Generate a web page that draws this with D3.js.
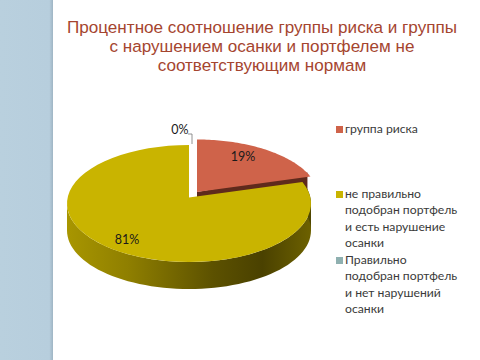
<!DOCTYPE html>
<html>
<head>
<meta charset="utf-8">
<style>
  html, body { margin: 0; padding: 0; background: #fff; overflow: hidden; }
  svg { display: block; }
</style>
<script src="https://d3js.org/d3.v7.min.js"></script>
</head>
<body>
<svg width="480" height="360"></svg>
<script>
var titleLines = ["Процентное соотношение группы риска и группы", "с нарушением осанки и портфелем не", "соответствующим нормам"];
var categories = ["группа риска", "не правильно подобран портфель и есть нарушение осанки", "Правильно подобран портфель и нет нарушений осанки"];
var legendLines = [["группа риска"], ["не правильно", "подобран портфель", "и есть нарушение", "осанки"], ["Правильно", "подобран портфель", "и нет нарушений", "осанки"]];
var values = [19, 81, 0];
var colors = ["#cf634a", "#c9b400", "#8fb0b0"];

var svg = d3.select("svg");
var defs = svg.append("defs");

// left strip of the slide
var band = defs.append("linearGradient").attr("id", "band");
band.append("stop").attr("offset", "0").attr("stop-color", "#b9d0de");
band.append("stop").attr("offset", "0.93").attr("stop-color", "#b7cedd");
band.append("stop").attr("offset", "1").attr("stop-color", "#9fb5c4");
svg.append("rect").attr("width", 53).attr("height", 360).attr("fill", "url(#band)");

svg.append("g").selectAll("text").data(titleLines).join("text")
    .attr("x", 262)
    .attr("y", function(d, i) { return 32.5 + i * 19.4; })
    .attr("text-anchor", "middle")
    .attr("font-family", "Liberation Sans")
    .attr("font-size", 17.1)
    .attr("fill", "#a5452f")
    .text(function(d) { return d; });

// pie geometry: d3.pie angles, flattened to a tilted disc
var cx = 189, cy = 203.5, rx = 122, ry = 58.5, depth = 27;
var apexDrop = -6; // tilted disc: the apex sits a bit above the ellipse centre
var pie = d3.pie().sort(null).value(function(d) { return d; });
var arcs = pie(values);

var side = defs.append("linearGradient").attr("id", "side");
[[0, "#a89600"], [0.25, "#8f7f00"], [0.6, "#5c5100"], [0.8, "#4a4100"], [1, "#6d6100"]].forEach(function(s) {
  side.append("stop").attr("offset", s[0]).attr("stop-color", s[1]);
});

function px(a) { return Math.sin(a) * rx; }
function py(a) { return -Math.cos(a) * ry; }

function sector(a0, a1, ox, oy) {
  var pts = d3.range(0, 61).map(function(i) {
    var a = a0 + (a1 - a0) * i / 60;
    return [ox + px(a), oy + py(a)];
  });
  return d3.line()([[ox, oy + apexDrop]].concat(pts)) + "Z";
}

function wall(a0, a1, ox, oy) {
  var top = d3.range(0, 61).map(function(i) {
    var a = a0 + (a1 - a0) * i / 60;
    return [ox + px(a), oy + py(a)];
  });
  var bottom = top.map(function(p) { return [p[0], p[1] + depth]; }).reverse();
  return d3.line()(top.concat(bottom)) + "Z";
}

var g = svg.append("g");
var risk = arcs[0], main = arcs[1];

// risk slice is pulled out a little, up and to the right
var rox = cx + 8, roy = cy - 5.5;
var riskX = rox + px(risk.endAngle) - 3, riskY = roy + py(risk.endAngle) - 4;
g.append("path")
    .attr("d", d3.line()([
      [rox, roy + apexDrop], [riskX, riskY],
      [riskX, riskY + depth], [rox, roy + apexDrop + depth]
    ]) + "Z")
    .attr("fill", "#5f2a1c");
g.append("path").attr("d", sector(risk.startAngle, risk.endAngle, rox, roy)).attr("fill", colors[0]);

// main slice wall (front part only), then its top
g.append("path").attr("d", wall(Math.PI / 2, 3 * Math.PI / 2, cx, cy)).attr("fill", "url(#side)");
g.append("path").attr("d", wall(main.startAngle, Math.PI / 2, cx, cy)).attr("fill", "#4f4600");
g.append("path").attr("d", sector(main.startAngle, main.endAngle, cx, cy)).attr("fill", colors[1]);

var labelFont = "Lato";
// 0% leader line
g.append("path")
    .attr("d", d3.line()([[188, 134], [192, 134], [192, 144]]))
    .attr("fill", "none").attr("stroke", "#777").attr("stroke-width", 0.8);

var pctLabels = [
  {t: values[0] + "%", x: 243, y: 161},
  {t: values[1] + "%", x: 127, y: 244},
  {t: values[2] + "%", x: 180, y: 134}
];
g.selectAll("text.pct").data(pctLabels).join("text")
    .attr("class", "pct")
    .attr("x", function(d) { return d.x; })
    .attr("y", function(d) { return d.y; })
    .attr("text-anchor", "middle")
    .attr("font-family", labelFont)
    .attr("font-size", 12.5)
    .attr("fill", "#1a1a1a")
    .text(function(d) { return d.t; });

// legend
var legendTop = [133, 198, 264];
var legend = svg.append("g").selectAll("g").data(categories).join("g");
legend.append("rect")
    .attr("x", 336).attr("width", 7).attr("height", 7)
    .attr("y", function(d, i) { return legendTop[i] - 7; })
    .attr("fill", function(d, i) { return colors[i]; });
legend.each(function(d, i) {
  d3.select(this).selectAll("text").data(legendLines[i]).join("text")
      .attr("x", 345)
      .attr("y", function(l, j) { return legendTop[i] + j * 16.4; })
      .attr("font-family", labelFont)
      .attr("font-size", 12.2)
      .attr("fill", "#3a3a3a")
      .text(function(l) { return l; });
});
</script>
</body>
</html>
